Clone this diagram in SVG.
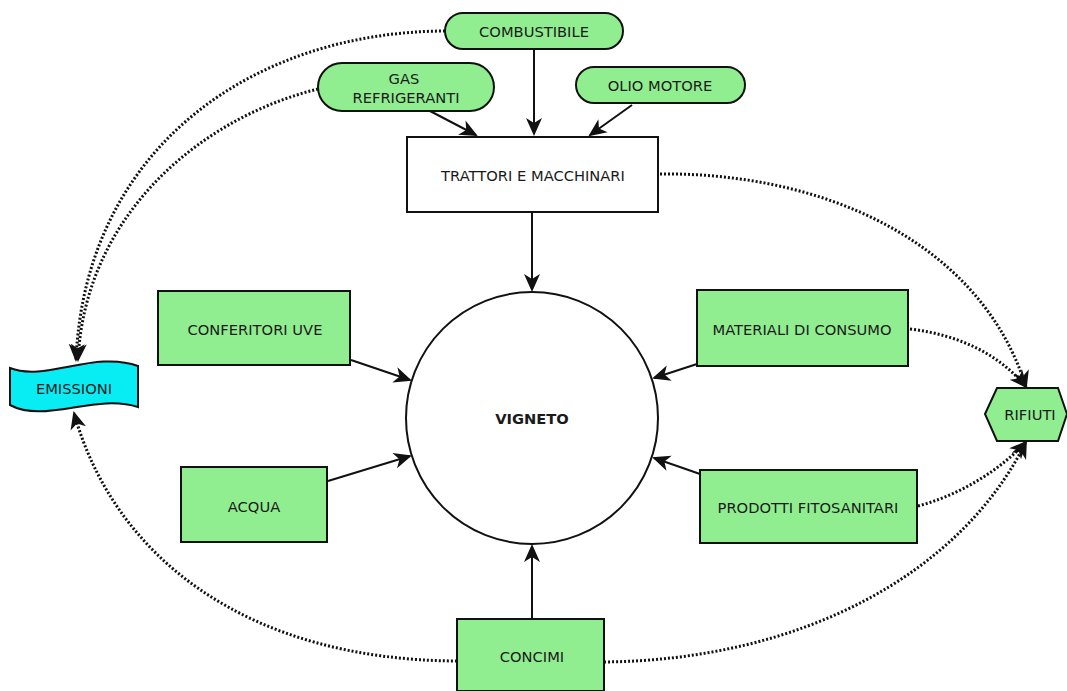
<svg xmlns="http://www.w3.org/2000/svg" width="1067" height="691" viewBox="0 0 1067 691">
<style>
.n{fill:#90ee90;stroke:#111;stroke-width:2}
.w{fill:#fff;stroke:#111;stroke-width:2}
.t{font-family:"DejaVu Sans",Verdana,sans-serif;font-size:14.7px;fill:#1a1a1a;text-anchor:middle;dominant-baseline:central}
.s{fill:none;stroke:#111;stroke-width:2}
.d{fill:none;stroke:#111;stroke-width:3;stroke-dasharray:2 2}
</style>
<defs>
<marker id="a" markerUnits="userSpaceOnUse" markerWidth="20" markerHeight="20" refX="16" refY="8" orient="auto" viewBox="0 0 20 16">
<path d="M0,0 L18,8 L0,16 L5,8 Z" fill="#111"/>
</marker>
</defs>
<rect width="1067" height="691" fill="#fff"/>
<g id="connectors">
<path class="s" d="M534,49 L534,134" marker-end="url(#a)"/>
<path class="s" d="M430,111 L476,135" marker-end="url(#a)"/>
<path class="s" d="M632,105 L590,135" marker-end="url(#a)"/>
<path class="s" d="M532,212 L532,290" marker-end="url(#a)"/>
<path class="s" d="M351,360 L410,380" marker-end="url(#a)"/>
<path class="s" d="M328,481 L410,456" marker-end="url(#a)"/>
<path class="s" d="M697,364 L654,378" marker-end="url(#a)"/>
<path class="s" d="M700,474 L654,458" marker-end="url(#a)"/>
<path class="s" d="M532,618 L532,546" marker-end="url(#a)"/>
<path class="d" d="M445,31 C250,32 85,150 76,360" marker-end="url(#a)"/>
<path class="d" d="M318,89 C200,118 85,215 78,360" marker-end="url(#a)"/>
<path class="d" d="M660,174 C820,172 980,240 1026,387" marker-end="url(#a)"/>
<path class="d" d="M910,329 C960,335 1000,355 1026,387" marker-end="url(#a)"/>
<path class="d" d="M918,506 C960,495 1000,470 1026,442" marker-end="url(#a)"/>
<path class="d" d="M604,662 C800,660 960,575 1026,442" marker-end="url(#a)"/>
<path class="d" d="M457,661 C250,660 115,560 74,413" marker-end="url(#a)"/>
</g>
<g id="combustibile"><rect class="n" x="445" y="13" width="178" height="36" rx="18"/><text class="t" x="534" y="31">COMBUSTIBILE</text></g>
<g id="gas"><rect class="n" x="318" y="63" width="176" height="48" rx="24"/><text class="t" x="404" y="78">GAS</text><text class="t" x="406" y="97">REFRIGERANTI</text></g>
<g id="olio"><rect class="n" x="576" y="67" width="169" height="36" rx="18"/><text class="t" x="660" y="85">OLIO MOTORE</text></g>
<g id="trattori"><rect class="w" x="407" y="137" width="251" height="75"/><text class="t" x="533" y="175">TRATTORI E MACCHINARI</text></g>
<g id="vigneto"><circle class="w" cx="532" cy="418" r="126"/><text class="t" x="532" y="418" font-weight="bold" font-size="13.5px">VIGNETO</text></g>
<g id="conferitori"><rect class="n" x="158" y="291" width="192" height="74"/><text class="t" x="255" y="329">CONFERITORI UVE</text></g>
<g id="acqua"><rect class="n" x="181" y="467" width="146" height="75"/><text class="t" x="254" y="506">ACQUA</text></g>
<g id="materiali"><rect class="n" x="697" y="290" width="211" height="76"/><text class="t" x="802" y="329">MATERIALI DI CONSUMO</text></g>
<g id="prodotti"><rect class="n" x="700" y="470" width="217" height="73"/><text class="t" x="808" y="507">PRODOTTI FITOSANITARI</text></g>
<g id="concimi"><rect class="n" x="457" y="619" width="147" height="72"/><text class="t" x="532" y="656">CONCIMI</text></g>
<g id="emissioni"><path d="M10,368 C45,382 95,350 138,366 L138,407 C95,393 45,424 10,405 Z" fill="#08ecf4" stroke="#111" stroke-width="2"/><text class="t" x="74" y="388">EMISSIONI</text></g>
<g id="rifiuti"><polygon class="n" points="985,414 997,388 1058,388 1067,414 1058,441 997,441"/><text class="t" x="1030" y="414">RIFIUTI</text></g>
</svg>
